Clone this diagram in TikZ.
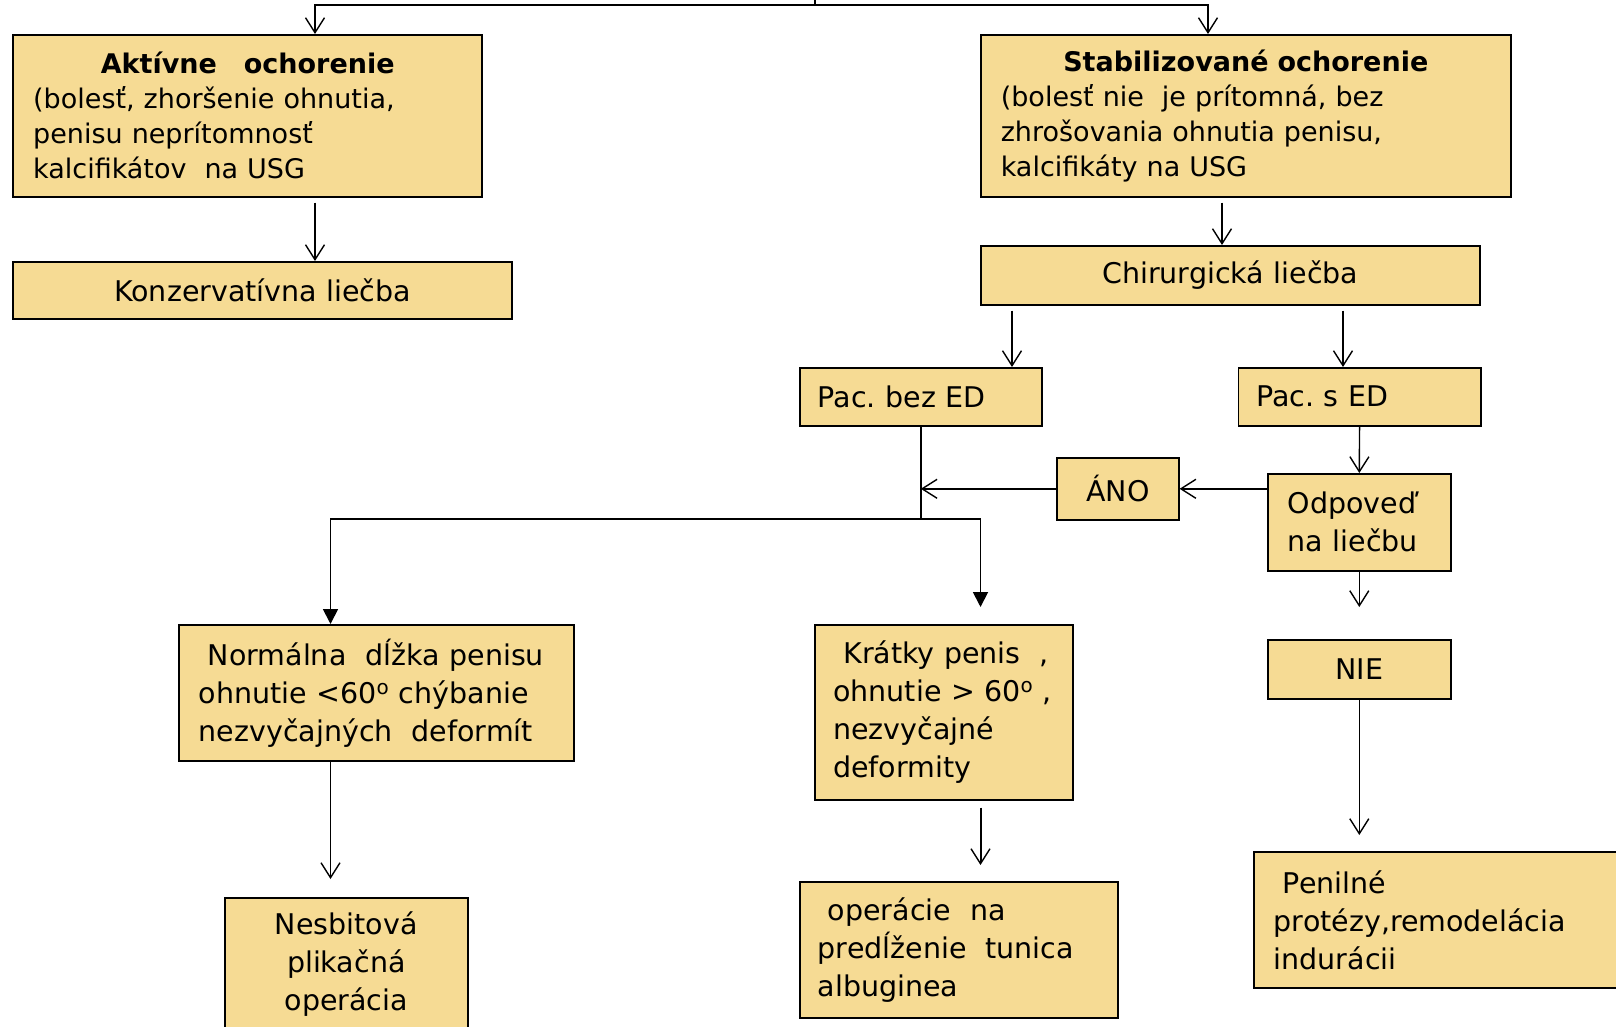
\documentclass[tikz,border=0pt]{standalone}
\usepackage{fontspec}
\setmainfont{DejaVu Sans}
\usetikzlibrary{arrows.meta}
\definecolor{boxfill}{RGB}{246,219,148}
\frenchspacing
\begin{document}
\begin{tikzpicture}[x=1pt,y=-1pt,
  box/.style={draw=black, fill=boxfill, line width=1.6pt, anchor=north west, inner ysep=0pt, rectangle, text=black},
  fontL/.style={font=\fontsize{28.5}{38}\selectfont},
  fontS/.style={font=\fontsize{27}{35}\selectfont},
  conn/.style={line width=1.4pt},
  arr/.style={line width=1.4pt, -{Straight Barb[length=15pt,width=19pt,line width=1.4pt]}},
  tri/.style={line width=1.8pt, -{Triangle[length=15pt,width=15pt]}}]
\clip (0,0) rectangle (1616,1027);
\fill[white] (0,0) rectangle (1616,1027);

% nodes
\node[box, fontS, align=left, inner xsep=20pt, text width=429pt, minimum height=162pt] (akt) at (12.4,34)
  {\makebox[429pt][c]{\bfseries Aktívne\ \ \ ochorenie}\\(bolesť, zhoršenie ohnutia,\\penisu neprítomnosť\\kalcifikátov\ \ na USG};
\node[box, fontL, align=center, inner xsep=20pt, text width=459pt, minimum height=57pt] (konz) at (12.4,261)
  {Konzervatívna liečba};
\node[box, fontS, align=left, inner xsep=20pt, text width=490pt, minimum height=162pt] (stab) at (980,34)
  {\makebox[490pt][c]{\bfseries Stabilizované ochorenie}\\(bolesť nie\ \ je prítomná, bez\\zhrošovania ohnutia penisu,\\kalcifikáty na USG};
\node[box, fontL, align=center, inner xsep=20pt, text width=459pt, minimum height=59pt] (chir) at (980,245)
  {Chirurgická liečba};
\node[box, fontL, align=left, inner xsep=18pt, text width=206pt, minimum height=58pt] (pbez) at (799,367)
  {Pac. bez ED};
\node[box, fontL, align=left, inner xsep=18pt, text width=206.5pt, minimum height=58pt] (pse) at (1237.5,367)
  {Pac. s ED};
\node[box, fontL, align=center, inner xsep=10pt, text width=102pt, minimum height=62pt] (ano) at (1056,457)
  {ÁNO};
\node[box, fontL, align=left, inner xsep=20pt, text width=143pt, minimum height=97pt] (odp) at (1267,473)
  {Odpoveď\\na liečbu};
\node[box, fontL, align=left, inner xsep=20pt, text width=355pt, minimum height=136pt] (norm) at (178,624)
  {\hspace*{9pt}Normálna\ \ dĺžka penisu\\ohnutie <60\textsuperscript{o} chýbanie\\nezvyčajných\ \ deformít};
\node[box, fontL, align=left, inner xsep=18.5pt, text width=221pt, minimum height=175pt] (krat) at (814,624)
  {\makebox[221pt][l]{\hspace*{10pt}Krátky penis\ \ ,}\\\makebox[221pt][l]{ohnutie > 60\textsuperscript{o}\ ,}\\nezvyčajné\\deformity};
\node[box, fontL, align=center, inner xsep=10pt, text width=163pt, minimum height=59pt] (nie) at (1267,639)
  {NIE};
\node[box, fontL, align=center, inner xsep=10pt, text width=223pt, minimum height=133pt] (nes) at (224,897)
  {Nesbitová\\plikačná\\operácia};
\node[box, fontL, align=left, inner xsep=18pt, text width=282pt, minimum height=136pt] (oper) at (799,881)
  {\hspace*{10pt}operácie\ \ na\\predĺženie\ \ tunica\\albuginea};
\node[box, fontL, align=left, inner xsep=20pt, text width=360pt, minimum height=136pt] (pen) at (1253,851)
  {\hspace*{9pt}Penilné\\protézy,remodelácia\\indurácii};

% helper coordinates
\coordinate (root) at (815,-10);
\coordinate (bar) at (815,5);
\coordinate (cA) at (315,0);
\coordinate (cS) at (1208,0);
\coordinate (cSC) at (1222,0);
\coordinate (cPb) at (1012,0);
\coordinate (cPs) at (1343,0);
\coordinate (cN) at (330.5,0);
\coordinate (cK) at (980.5,0);
\coordinate (hbar) at (0,519);

% connectors
\draw[conn, line width=2pt] (root) -- (bar);
\draw[arr, line width=2pt] (bar) -| (akt.north -| cA);
\draw[arr, line width=2pt] (bar) -| (stab.north -| cS);
\draw[arr, shorten <=5pt] (akt.south -| cA) -- (konz.north -| cA);
\draw[arr, line width=2pt, shorten <=5pt] (stab.south -| cSC) -- (chir.north -| cSC);
\draw[arr, shorten <=5pt] (chir.south -| cPb) -- (pbez.north -| cPb);
\draw[arr, shorten <=5pt] (chir.south -| cPs) -- (pse.north -| cPs);
\draw[conn] (pbez.south) -- (pbez.south |- hbar);
\draw[tri] (pbez.south |- hbar) -| (norm.north -| cN);
\draw[tri, shorten >=17pt] (pbez.south |- hbar) -| (krat.north -| cK);
\draw[arr] (pse.south) -- (odp.north);
\draw[arr] (odp.west |- ano.east) -- (ano.east);
\draw[arr] (ano.west) -- (ano.west -| pbez.south);
\draw[arr, shorten >=32pt] (odp.south) -- (nie.north);
\draw[arr, shorten >=16pt] (nie.south) -- (nie.south |- pen.north);
\draw[arr, shorten >=18pt] (norm.south -| cN) -- (nes.north -| cN);
\draw[arr, line width=2pt, shorten <=7pt, shorten >=16pt] (krat.south -| cK) -- (oper.north -| cK);
\end{tikzpicture}
\end{document}
